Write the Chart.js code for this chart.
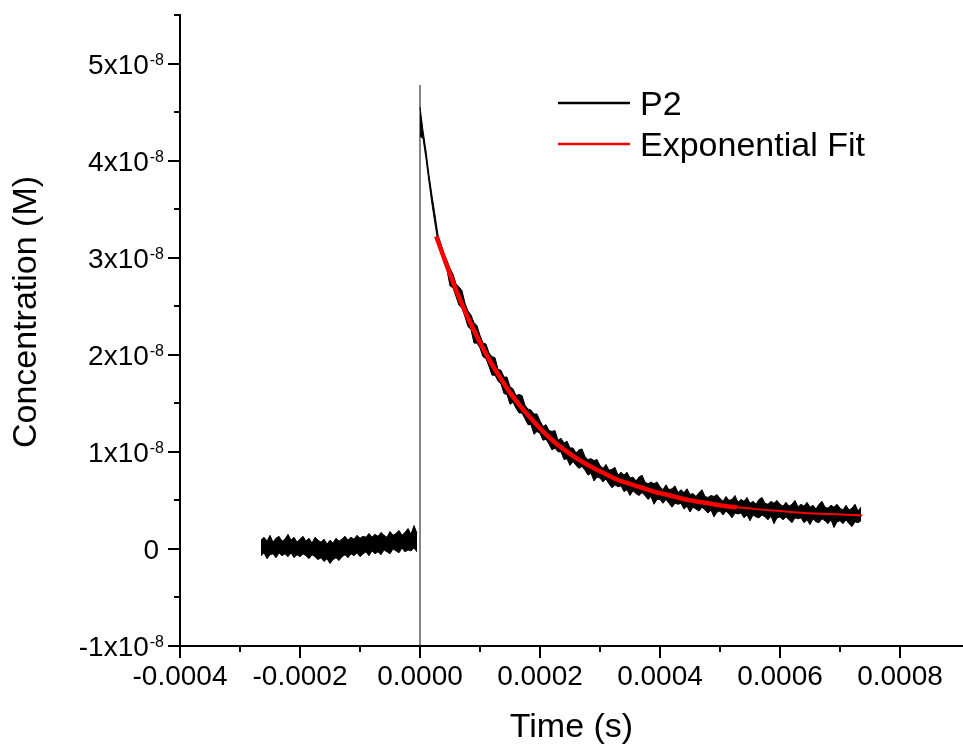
<!DOCTYPE html>
<html lang="en">
<head>
<meta charset="UTF-8">
<title>P2 decay</title>
<script src="https://cdn.jsdelivr.net/npm/chart.js"></script>
<style>
  html, body { margin: 0; padding: 0; background: #fff; }
  #chartBox { width: 963px; height: 744px; }
</style>
</head>
<body>
<div id="chartBox"><canvas id="decayChart" width="963" height="744"></canvas></div>
<script>
// concentrations are kept in units of 1e-8 M, times in seconds
const concExponent = -8;

// P2 trace: upper and lower edge of the noise band, one sample every 5 us
const p2Step = 0.000005;
const p2BeforeStart = -0.000265;
const p2BeforeUpper = [
  0.09, 0.12, 0.08, 0.14, 0.07, 0.11, 0.13, 0.08, 0.10, 0.15,
  0.09, 0.12, 0.07, 0.10, 0.13, 0.08, 0.11, 0.06, 0.12, 0.09,
  0.07, 0.10, 0.05, 0.09, 0.06, 0.11, 0.08, 0.10, 0.13, 0.09,
  0.12, 0.10, 0.14, 0.11, 0.13, 0.12, 0.16, 0.12, 0.15, 0.13,
  0.17, 0.14, 0.12, 0.18, 0.14, 0.16, 0.19, 0.14, 0.17, 0.21,
  0.15, 0.24, 0.16
];
const p2BeforeLower = [
  -0.07, -0.04, -0.10, -0.06, -0.05, -0.09, -0.04, -0.07, -0.05, -0.08,
  -0.04, -0.09, -0.06, -0.08, -0.05, -0.07, -0.10, -0.06, -0.08, -0.11,
  -0.09, -0.13, -0.10, -0.15, -0.11, -0.09, -0.12, -0.08, -0.06, -0.09,
  -0.05, -0.07, -0.04, -0.08, -0.05, -0.03, -0.07, -0.02, -0.05, -0.03,
  -0.06, -0.01, -0.03, -0.05, 0.00, -0.02, -0.04, 0.01, -0.03, -0.01,
  -0.02, 0.01, -0.03
];
const p2AfterStart = 0;
const p2AfterUpper = [
  4.55,
  4.31, 4.10, 3.85, 3.64, 3.44, 3.23, 3.14, 3.04, 2.97, 2.89,
  2.83, 2.73, 2.70, 2.66, 2.53, 2.45, 2.41, 2.33, 2.30, 2.20,
  2.12, 2.11, 2.02, 1.98, 1.97, 1.85, 1.84, 1.77, 1.77, 1.67,
  1.65, 1.58, 1.59, 1.58, 1.48, 1.44, 1.43, 1.39, 1.39, 1.32,
  1.26, 1.28, 1.22, 1.21, 1.22, 1.12, 1.14, 1.09, 1.11, 1.04,
  1.04, 0.99, 1.02, 1.03, 0.95, 0.92, 0.93, 0.91, 0.92, 0.86,
  0.83, 0.87, 0.81, 0.82, 0.84, 0.76, 0.79, 0.76, 0.79, 0.73,
  0.74, 0.70, 0.74, 0.76, 0.69, 0.67, 0.69, 0.67, 0.69, 0.64,
  0.61, 0.66, 0.61, 0.62, 0.65, 0.58, 0.61, 0.58, 0.62, 0.56,
  0.57, 0.54, 0.58, 0.61, 0.54, 0.53, 0.55, 0.54, 0.56, 0.52,
  0.49, 0.54, 0.50, 0.51, 0.55, 0.48, 0.51, 0.49, 0.53, 0.47,
  0.49, 0.46, 0.51, 0.53, 0.47, 0.46, 0.49, 0.47, 0.50, 0.46,
  0.44, 0.48, 0.44, 0.46, 0.50, 0.43, 0.46, 0.44, 0.48, 0.43,
  0.45, 0.41, 0.46, 0.49, 0.43, 0.42, 0.45, 0.43, 0.46, 0.42,
  0.40, 0.45, 0.40, 0.42, 0.46, 0.39, 0.43
];
const p2AfterLower = [
  4.25,
  4.23, 4.02, 3.78, 3.55, 3.35, 3.16, 3.06, 2.95, 2.87, 2.71,
  2.69, 2.60, 2.51, 2.48, 2.39, 2.29, 2.26, 2.12, 2.12, 2.07,
  1.98, 1.96, 1.88, 1.79, 1.79, 1.73, 1.70, 1.60, 1.59, 1.49,
  1.51, 1.45, 1.40, 1.40, 1.34, 1.28, 1.28, 1.18, 1.21, 1.19,
  1.12, 1.13, 1.08, 1.02, 1.04, 1.00, 1.00, 0.92, 0.93, 0.86,
  0.90, 0.86, 0.83, 0.85, 0.81, 0.76, 0.78, 0.70, 0.74, 0.73,
  0.69, 0.72, 0.67, 0.63, 0.66, 0.64, 0.65, 0.59, 0.61, 0.55,
  0.60, 0.57, 0.55, 0.58, 0.55, 0.51, 0.54, 0.46, 0.51, 0.51,
  0.47, 0.51, 0.47, 0.43, 0.47, 0.46, 0.47, 0.41, 0.44, 0.38,
  0.43, 0.41, 0.39, 0.43, 0.40, 0.37, 0.40, 0.33, 0.38, 0.39,
  0.35, 0.39, 0.36, 0.32, 0.37, 0.36, 0.37, 0.32, 0.35, 0.29,
  0.35, 0.33, 0.32, 0.35, 0.33, 0.30, 0.34, 0.26, 0.32, 0.33,
  0.30, 0.33, 0.30, 0.27, 0.32, 0.31, 0.32, 0.27, 0.30, 0.25,
  0.31, 0.28, 0.27, 0.31, 0.29, 0.26, 0.30, 0.22, 0.28, 0.29,
  0.26, 0.30, 0.26, 0.23, 0.28, 0.27, 0.29
];

// exponential fit (thick part)
const fitTimes = [0.000027, 0.00005, 0.00007, 0.00009, 0.00011, 0.00013, 0.00015, 0.00017,
  0.00019, 0.00021, 0.00023, 0.00025, 0.00027, 0.00029, 0.00031, 0.00033, 0.00035,
  0.00037, 0.00039, 0.00041, 0.00043, 0.00045, 0.00047, 0.00049, 0.00051, 0.000528];
const fitValues = [3.22, 2.83, 2.52, 2.25, 2.01, 1.80, 1.61, 1.45,
  1.31, 1.18, 1.07, 0.98, 0.90, 0.83, 0.77, 0.71, 0.67,
  0.63, 0.59, 0.56, 0.53, 0.50, 0.48, 0.46, 0.44, 0.43];
// thin continuation of the fit
const fitTailTimes = [0.000528, 0.00056, 0.0006, 0.00064, 0.00068, 0.00072, 0.000737];
const fitTailValues = [0.43, 0.41, 0.39, 0.37, 0.36, 0.35, 0.345];

// thin vertical line at t = 0
const zeroLineTimes = [0, 0];
const zeroLineValues = [-1, 4.78];

// axes
const xMin = -0.0004, xMax = 0.000905;
const xMajor = 0.0002, xMinor = 0.0001;
const yMin = -1, yMax = 5.5;
const yMajor = 1, yMinor = 0.5;

const FONT = '"Liberation Sans", Arial, Helvetica, sans-serif';

function toPoints(xs, ys) {
    return xs.map((x, i) => ({ x: x, y: ys[i] }));
}

// before and after the trigger, with a gap so no line joins them
function bandEdge(before, after) {
    let pts = before.map((v, i) => ({ x: p2BeforeStart + i * p2Step, y: v }));
    pts.push({ x: -p2Step / 2, y: null });
    after.forEach((v, i) => pts.push({ x: p2AfterStart + i * p2Step, y: v }));
    return pts;
}

// tick marks, y tick labels with exponent, y title and legend
const decorations = {
    id: 'decorations',
    afterDraw(chart) {
        const ctx = chart.ctx;
        const area = chart.chartArea;
        const xs = chart.scales.x, ys = chart.scales.y;
        ctx.save();
        ctx.strokeStyle = '#000';
        ctx.lineWidth = 2;

        // x tick marks
        xs.ticks.forEach(t => {
            const k = Math.round(t.value / xMinor);
            if (Math.abs(t.value / xMinor - k) > 1e-6) return;
            const px = Math.round(xs.getPixelForValue(t.value));
            const len = (k % Math.round(xMajor / xMinor) === 0) ? 12 : 6;
            ctx.beginPath();
            ctx.moveTo(px, area.bottom);
            ctx.lineTo(px, area.bottom + len);
            ctx.stroke();
        });

        // y tick marks and labels
        ys.ticks.forEach(t => {
            const v = t.value;
            const k = Math.round(v / yMinor);
            if (Math.abs(v / yMinor - k) > 1e-6) return;
            const py = Math.round(ys.getPixelForValue(v));
            const major = Math.abs(v / yMajor - Math.round(v / yMajor)) < 1e-6;
            ctx.beginPath();
            ctx.moveTo(area.left, py);
            ctx.lineTo(area.left - (major ? 12 : 6), py);
            ctx.stroke();
            if (!major) return;

            ctx.fillStyle = '#000';
            ctx.textAlign = 'right';
            ctx.textBaseline = 'alphabetic';
            const n = Math.round(v);
            if (n === 0) {
                ctx.font = '28px ' + FONT;
                ctx.fillText('0', area.left - 21, py + 10);
                return;
            }
            const sup = String(concExponent);
            ctx.font = '16px ' + FONT;
            const supW = ctx.measureText(sup).width;
            ctx.fillText(sup, area.left - 16, py + 1);
            ctx.font = '28px ' + FONT;
            ctx.fillText(n + 'x10', area.left - 16 - supW - 1, py + 10);
        });

        // y axis title
        ctx.save();
        ctx.translate(27, 312);
        ctx.rotate(-Math.PI / 2);
        ctx.font = '34px ' + FONT;
        ctx.textAlign = 'center';
        ctx.textBaseline = 'middle';
        ctx.fillStyle = '#000';
        ctx.fillText('Concentration (M)', 0, 0);
        ctx.restore();

        // legend
        const entries = chart.data.datasets
            .filter(d => d.legendRank !== undefined)
            .sort((a, b) => a.legendRank - b.legendRank);
        entries.forEach((d, i) => {
            const y = 103 + i * 41;
            ctx.strokeStyle = d.borderColor;
            ctx.lineWidth = 2.5;
            ctx.beginPath();
            ctx.moveTo(558, y);
            ctx.lineTo(630, y);
            ctx.stroke();
            ctx.fillStyle = '#000';
            ctx.font = '34px ' + FONT;
            ctx.textAlign = 'left';
            ctx.textBaseline = 'alphabetic';
            ctx.fillText(d.label, 640, y + 12);
        });
        ctx.restore();
    }
};

const ctx = document.getElementById('decayChart').getContext('2d');
new Chart(ctx, {
    type: 'line',
    data: {
        datasets: [
            {
                label: 'Exponential Fit',
                legendRank: 1,
                data: toPoints(fitTimes, fitValues),
                borderColor: '#ff0000',
                borderWidth: 4.5,
                pointRadius: 0,
                cubicInterpolationMode: 'monotone',
                order: 0
            },
            {
                label: 'fit tail',
                data: toPoints(fitTailTimes, fitTailValues),
                borderColor: '#ff0000',
                borderWidth: 2,
                pointRadius: 0,
                cubicInterpolationMode: 'monotone',
                order: 1
            },
            {
                label: 'P2',
                legendRank: 0,
                data: bandEdge(p2BeforeUpper, p2AfterUpper),
                borderColor: '#000000',
                backgroundColor: '#000000',
                borderWidth: 1,
                pointRadius: 0,
                tension: 0,
                spanGaps: false,
                fill: '+1',
                order: 2
            },
            {
                label: 'P2 lower',
                data: bandEdge(p2BeforeLower, p2AfterLower),
                borderColor: '#000000',
                borderWidth: 1,
                pointRadius: 0,
                tension: 0,
                spanGaps: false,
                fill: false,
                order: 2
            },
            {
                label: 'zero',
                data: toPoints(zeroLineTimes, zeroLineValues),
                borderColor: '#333333',
                borderWidth: 1.2,
                pointRadius: 0,
                order: 3
            }
        ]
    },
    options: {
        responsive: false,
        devicePixelRatio: 1,
        animation: false,
        layout: { padding: { top: 15, right: 0, left: 0, bottom: 0 } },
        plugins: {
            legend: { display: false },
            tooltip: { enabled: false }
        },
        scales: {
            x: {
                type: 'linear',
                min: xMin,
                max: xMax,
                afterFit: s => { s.height = 98; s.paddingLeft = 0; s.paddingRight = 0; },
                border: { display: true, color: '#000', width: 2 },
                grid: { display: true, drawOnChartArea: false, drawTicks: false },
                ticks: {
                    stepSize: xMinor,
                    autoSkip: false,
                    maxRotation: 0,
                    padding: 14,
                    color: '#000',
                    font: { family: FONT, size: 28 },
                    callback: v => {
                        const k = Math.round(v / xMinor);
                        if (Math.abs(v / xMinor - k) > 1e-6) return '';
                        if (k % Math.round(xMajor / xMinor) !== 0) return '';
                        return (k * xMinor).toFixed(4);
                    }
                },
                title: {
                    display: true,
                    text: 'Time (s)',
                    color: '#000',
                    font: { family: FONT, size: 34 },
                    padding: { top: 0, bottom: -4 }
                }
            },
            y: {
                type: 'linear',
                min: yMin,
                max: yMax,
                afterFit: s => { s.width = 180; },
                border: { display: true, color: '#000', width: 2 },
                grid: { display: true, drawOnChartArea: false, drawTicks: false },
                ticks: { stepSize: yMinor, display: false }
            }
        }
    },
    plugins: [decorations]
});
</script>
</body>
</html>
